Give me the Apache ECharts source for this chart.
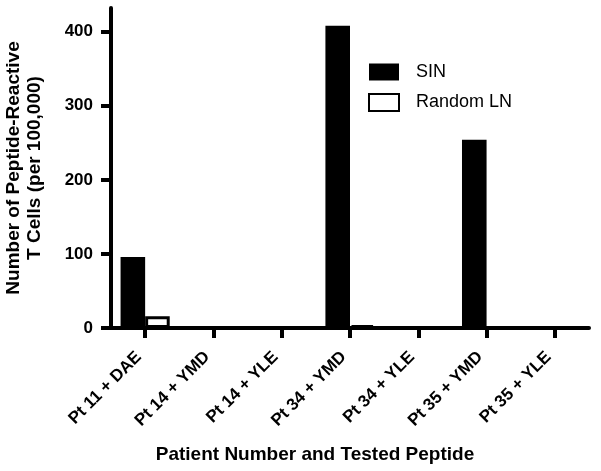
<!DOCTYPE html>
<html>
<head>
<meta charset="utf-8">
<script src="https://cdn.jsdelivr.net/npm/echarts@6/dist/echarts.min.js"></script>
<style>html,body{margin:0;padding:0;background:#fff;}#c{width:601px;height:471px;}</style>
</head>
<body>
<div id="c"></div>
<script>
const categories = ['Pt 11 + DAE','Pt 14 + YMD','Pt 14 + YLE','Pt 34 + YMD','Pt 34 + YLE','Pt 35 + YMD','Pt 35 + YLE'];
const sinValues = [96, 0, 0, 408, 0, 254, 2];
const randomValues = [16, 0, 0, 4, 0, 0, 0];
const yTicks = [0, 100, 200, 300, 400];

const FONT = '"Liberation Sans", Arial, sans-serif';
const chart = echarts.init(document.getElementById('c'));
chart.setOption({
  animation: false,
  backgroundColor: '#fff',
  grid: { left: 111, right: 12, top: 8, bottom: 143, containLabel: false, outerBoundsMode: 'none' },
  legend: {
    orient: 'vertical', left: 363, top: 58, itemWidth: 30, itemHeight: 17, itemGap: 12,
    icon: 'rect',
    textStyle: { fontFamily: FONT, fontSize: 18, color: '#000', padding: [0, 0, 0, 12] },
    data: ['SIN', 'Random LN']
  },
  xAxis: {
    type: 'category', data: categories,
    name: 'Patient Number and Tested Peptide', nameLocation: 'middle', nameGap: 117,
    nameTextStyle: { fontFamily: FONT, fontWeight: 'bold', fontSize: 19, color: '#000', padding: [0, 70, 0, 0] },
    axisLine: { show: true, onZero: false, lineStyle: { color: '#000', width: 4 } },
    axisTick: { show: true, interval: 0, alignWithLabel: true, length: 10, lineStyle: { color: '#000', width: 4 } },
    axisLabel: { show: true, rotate: 45, margin: 20, padding: [0, 9, 0, 0], fontFamily: FONT, fontWeight: 'bold', fontSize: 17, color: '#000', interval: 0 }
  },
  yAxis: {
    type: 'value', min: 0, max: 432,
    name: 'Number of Peptide-Reactive\nT Cells (per 100,000)', nameLocation: 'middle', nameGap: 66,
    nameTextStyle: { fontFamily: FONT, fontWeight: 'bold', fontSize: 19, color: '#000', lineHeight: 21 },
    axisLine: { show: true, lineStyle: { color: '#000', width: 4 } },
    axisTick: { show: true, length: 10, lineStyle: { color: '#000', width: 4 }, customValues: yTicks },
    axisLabel: { margin: 18, fontFamily: FONT, fontWeight: 'bold', fontSize: 17, color: '#000', customValues: yTicks },
    splitLine: { show: false }
  },
  series: [
    { name: 'SIN', type: 'bar', data: sinValues, barGap: '0%', barCategoryGap: '28%',
      itemStyle: { color: '#000', borderColor: '#000', borderWidth: 0 } },
    { name: 'Random LN', type: 'bar', data: randomValues,
      itemStyle: { color: '#fff', borderColor: '#000', borderWidth: 3 } }
  ]
});
</script>
</body>
</html>
